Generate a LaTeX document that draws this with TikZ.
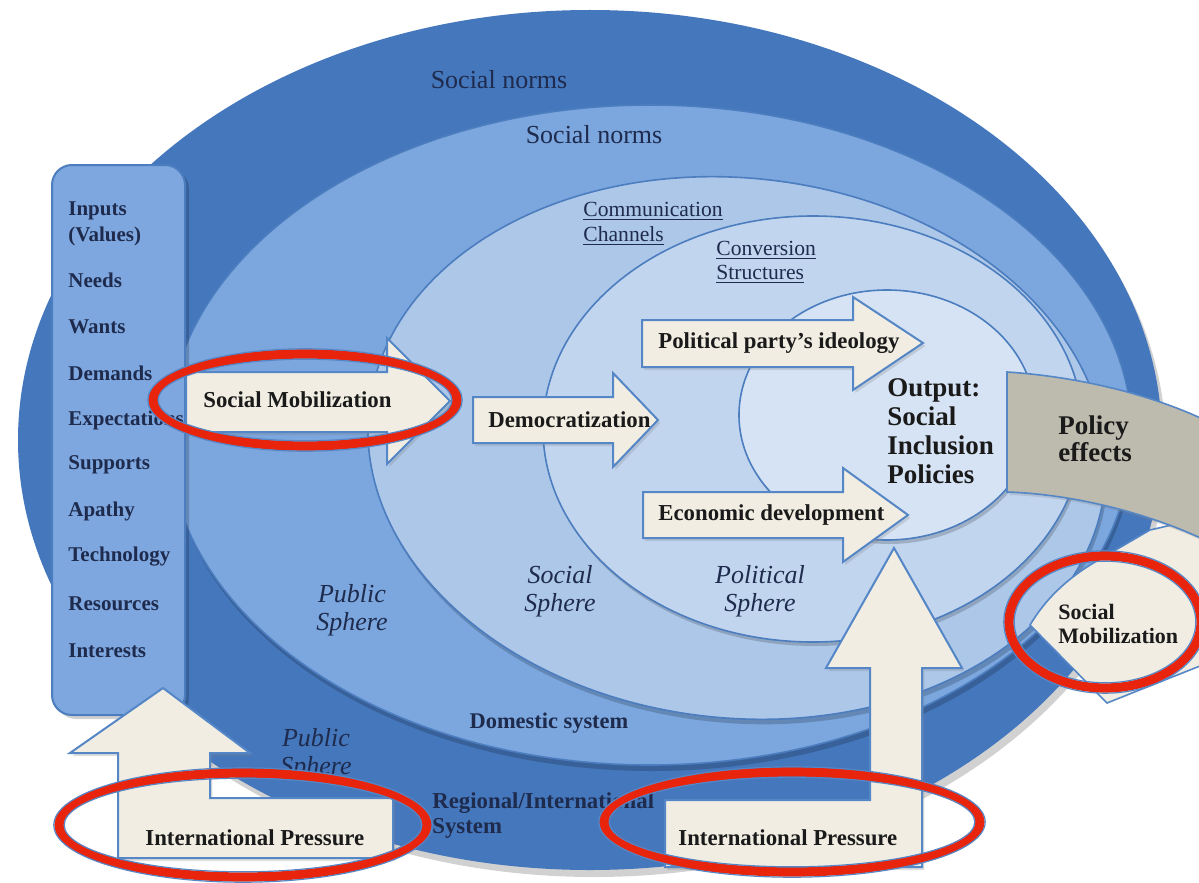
\documentclass[tikz,border=0pt]{standalone}
\usepackage{fontspec}
\setmainfont{Liberation Serif}
\usetikzlibrary{shadows}
\definecolor{darkring}{HTML}{4577BD}
\definecolor{medring}{HTML}{7BA6DE}
\definecolor{commring}{HTML}{ADC7E9}
\definecolor{convring}{HTML}{C1D5EF}
\definecolor{outring}{HTML}{D6E3F4}
\definecolor{ringline}{HTML}{4C7DBE}
\definecolor{boxfill}{HTML}{7EA7E0}
\definecolor{cream}{HTML}{F1EDE2}
\definecolor{arrowline}{HTML}{5586C6}
\definecolor{greyband}{HTML}{BDBAAE}
\definecolor{redc}{HTML}{E8240C}
\definecolor{navy}{HTML}{1E2B4D}
\definecolor{inkc}{HTML}{1A1A1A}
\newcommand{\fsz}[1]{\fontsize{#1}{#1}\selectfont}
\begin{document}
\begin{tikzpicture}[x=0.5pt,y=-0.5pt,
  ring/.style={draw=ringline, line width=0.8pt},
  shade/.style={fill=black, opacity=0.18},
  blockarrow/.style={fill=cream, draw=arrowline, line width=1pt, line join=miter,
     drop shadow={shadow xshift=1.2pt, shadow yshift=-1.5pt, opacity=0.25}},
  lbl/.style={inner sep=0pt, anchor=west, text=navy},
  inlbl/.style={lbl, font=\bfseries\fsz{10.5}},
  arrlbl/.style={inner sep=0pt, anchor=west, text=inkc, font=\bfseries\fsz{11.4}},
  sphere/.style={inner sep=0pt, text=navy, font=\itshape\fsz{13}, align=center},
  norms/.style={inner sep=0pt, text=navy, font=\fsz{13}},
  chan/.style={lbl, font=\fsz{10.8}},
  bigl/.style={inner sep=0pt, anchor=west, text=inkc, font=\bfseries\fsz{13.5}},
  redring/.style={draw=redc, line width=4.6pt},
  blueedge/.style={draw=arrowline, line width=0.6pt}
]
\useasboundingbox (0,0) rectangle (1199,883);
\clip (0,0) rectangle (1199,883);
\fill[white] (0,0) rectangle (1199,883);

% ---- outer ring (regional / international system)
\fill[shade] (594,447) ellipse [x radius=286pt, y radius=215pt];
\fill[darkring] (590,440) ellipse [x radius=286pt, y radius=215pt];

% ---- domestic system ring
\fill[shade] (652,441) ellipse [x radius=241pt, y radius=165pt];
\path[fill=medring, ring] (650,435) ellipse [x radius=241pt, y radius=165pt];

% ---- communication channels ring
\fill[shade, rotate around={-6:(739,453)}] (739,453) ellipse [x radius=185pt, y radius=135pt];
\path[fill=commring, ring, rotate around={-6:(737,448)}] (737,448) ellipse [x radius=185pt, y radius=135pt];

% ---- conversion structures ring
\fill[shade] (815,433) ellipse [x radius=135pt, y radius=106.5pt];
\path[fill=convring, ring] (813,429) ellipse [x radius=135pt, y radius=106.5pt];

% ---- output ellipse
\fill[shade] (889,419) ellipse [x radius=74pt, y radius=62.5pt];
\path[fill=outring, ring] (887,415) ellipse [x radius=74pt, y radius=62.5pt];

% ---- ring labels
\node[norms] (sn1) at (499,80) {Social norms};
\node[norms] (sn2) at (594,135) {Social norms};
\node[chan] (cc1) at (583,211) {\underline{Communication}};
\node[chan] (cc2) at (583,236) {\underline{Channels}};
\node[chan] (cs1) at (716,250) {\underline{Conversion}};
\node[chan] (cs2) at (716,274) {\underline{Structures}};
\node[sphere] (ps1) at (352,610) {Public\\[1pt]Sphere};
\node[sphere] (ss) at (560,591) {Social\\[1pt]Sphere};
\node[sphere] (pol) at (760,591) {Political\\[1pt]Sphere};
\node[lbl, anchor=center, font=\bfseries\fsz{11.2}] (dom) at (549,723) {Domestic system};
\node[sphere] (ps2) at (316,754) {Public\\[1pt]Sphere};
\node[lbl, font=\bfseries\fsz{11.4}] (reg1) at (432,803) {Regional/International};
\node[lbl, font=\bfseries\fsz{11.4}] (reg2) at (432,828) {System};

% ---- inputs box
\fill[shade, rounded corners=10pt] (56,169) rectangle (189,719);
\path[fill=boxfill, draw=ringline, line width=1pt, rounded corners=10pt] (52,165) rectangle (185,715);
\node[inlbl] (in1) at (68,211) {Inputs};
\node[inlbl] (in2) at (68,236) {(Values)};
\node[inlbl] (in3) at (68,280) {Needs};
\node[inlbl] (in4) at (68,327) {Wants};
\node[inlbl] (in5) at (68,373) {Demands};
\node[inlbl] (in6) at (68,420) {Expectations};
\node[inlbl] (in7) at (68,465) {Supports};
\node[inlbl] (in8) at (68,511) {Apathy};
\node[inlbl] (in9) at (68,557) {Technology};
\node[inlbl] (in10) at (68,604) {Resources};
\node[inlbl] (in11) at (68,651) {Interests};

% ---- block arrows
\path[blockarrow] (186,372) -- (387,372) -- (387,338) -- (450,401) -- (387,464) -- (387,432) -- (186,432) -- cycle;
\path[blockarrow] (473,397) -- (613,397) -- (613,373) -- (658,420) -- (613,467) -- (613,443) -- (473,443) -- cycle;
\path[blockarrow] (642,320) -- (853,320) -- (853,297) -- (923,343) -- (853,390) -- (853,367) -- (642,367) -- cycle;
\path[blockarrow] (643,492) -- (843,492) -- (843,468) -- (908,515) -- (843,562) -- (843,538) -- (643,538) -- cycle;

% policy effects band and its continuation
\path[fill=cream, draw=arrowline, line width=0.8pt] (1150,530) -- (1215,515) -- (1215,660) -- (1107,703) -- (1030,625) .. controls (1045,600) and (1065,580) .. (1095,562) -- cycle;
\path[fill=greyband, draw=arrowline, line width=0.8pt, drop shadow={shadow xshift=1.2pt, shadow yshift=-1.5pt, opacity=0.25}] (1007,372) .. controls (1070,376) and (1150,392) .. (1215,425) -- (1215,545) .. controls (1150,512) and (1070,494) .. (1007,492) -- cycle;

% bent-up arrows
\path[blockarrow] (665,800) -- (870,800) -- (870,668) -- (826,668) -- (894,548) -- (962,668) -- (922,668) -- (922,867) -- (665,867) -- cycle;
\path[blockarrow] (118,858) -- (118,753) -- (70,753) -- (163,688) -- (250,753) -- (210,753) -- (210,798) -- (393,798) -- (393,858) -- cycle;

% ---- arrow and output labels
\node[arrlbl] (smob) at (203,400) {Social Mobilization};
\node[arrlbl] (demo) at (488,420) {Democratization};
\node[arrlbl] (ppi) at (658,343) {Political party’s ideology};
\node[arrlbl] (eco) at (658,515) {Economic development};
\node[bigl, align=left] (outp) at (887,431) {Output:\\[1pt]Social\\[1pt]Inclusion\\[1pt]Policies};
\node[bigl, align=left] (pol2) at (1058,439) {Policy\\[0pt]effects};
\node[arrlbl, font=\bfseries\fsz{11}, align=left] (smob2) at (1058,624) {Social\\[1pt]Mobilization};
\node[arrlbl] (ip1) at (145,838) {International Pressure};
\node[arrlbl] (ip2) at (678,838) {International Pressure};

% ---- red highlight rings
\foreach \cx/\cy/\rx/\ry in {305/400/76/23, 243/825/92/26, 792/822/94/25, 1105/622/48/33}{
  \draw[redring] (\cx,\cy) ellipse [x radius=\rx pt, y radius=\ry pt];
  \draw[blueedge] (\cx,\cy) ellipse [x radius=\rx pt+2.6pt, y radius=\ry pt+2.6pt];
  \draw[blueedge] (\cx,\cy) ellipse [x radius=\rx pt-2.6pt, y radius=\ry pt-2.6pt];
}
\end{tikzpicture}
\end{document}
